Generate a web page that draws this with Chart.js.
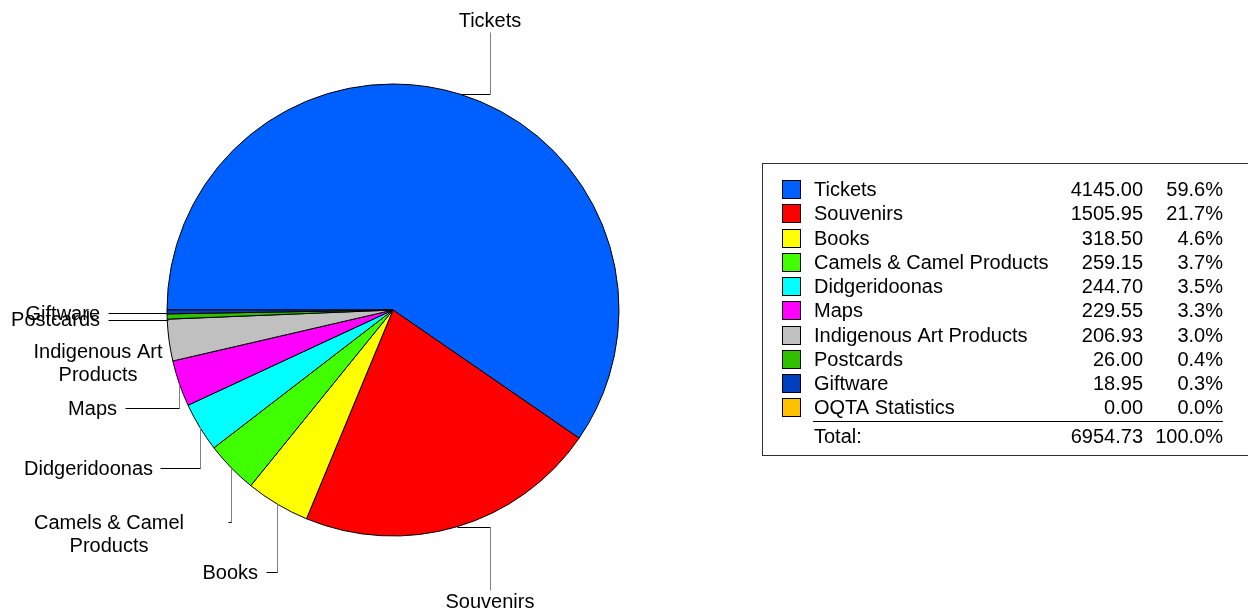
<!DOCTYPE html>
<html>
<head>
<meta charset="utf-8">
<title>Sales by Category</title>
<script src="https://cdn.jsdelivr.net/npm/chart.js@4.4.1/dist/chart.umd.min.js"></script>
<style>
    html, body { margin: 0; padding: 0; background: #ffffff; }
    #wrap { position: relative; width: 1248px; height: 614px; }
</style>
</head>
<body>
<div id="wrap"><canvas id="salesChart" width="1248" height="614"></canvas></div>
<script>
// Data
const categories = ['Tickets', 'Souvenirs', 'Books', 'Camels & Camel Products', 'Didgeridoonas',
    'Maps', 'Indigenous Art Products', 'Postcards', 'Giftware', 'OQTA Statistics'];
const salesValues = [4145.00, 1505.95, 318.50, 259.15, 244.70, 229.55, 206.93, 26.00, 18.95, 0.00];
const pieLabelLines = [['Tickets'], ['Souvenirs'], ['Books'], ['Camels & Camel', 'Products'], ['Didgeridoonas'],
    ['Maps'], ['Indigenous Art', 'Products'], ['Postcards'], ['Giftware'], []];
const sliceColors = ['#0060ff', '#ff0000', '#ffff00', '#40ff00', '#00ffff',
    '#ff00ff', '#c0c0c0', '#30c000', '#0040c0', '#ffc000'];
const totalLabel = 'Total:';

// Where each outside label sits; 'h' = go across then up/down, 'v' = go down then across
const labelLayout = [
    { leg: 'h', ex: 490, ey: 32, tx: 490, ty: 21, align: 'center' },
    { leg: 'h', ex: 490, ey: 590, tx: 490, ty: 602, align: 'center' },
    { leg: 'v', ex: 266, ey: 572, tx: 258, ty: 573, align: 'right' },
    { leg: 'v', ex: 228, ey: 522, tx: 109, ty: 523, align: 'center' },
    { leg: 'v', ex: 160, ey: 468, tx: 153, ty: 469, align: 'right' },
    { leg: 'v', ex: 125, ey: 408, tx: 117, ty: 409, align: 'right' },
    { leg: 'none', tx: 98, ty: 352, align: 'center' },
    { leg: 'flat', ex: 108, tx: 100, ty: 320, align: 'right', dy: 3 },
    { leg: 'flat', ex: 108, tx: 100, ty: 314, align: 'right', dy: 1 },
    { leg: 'none' }
];

const FONT = '20px "Liberation Sans", Arial, sans-serif';
const total = salesValues.reduce((a, b) => a + b, 0);

const labelsPlugin = {
    id: 'outsideLabels',
    afterDatasetsDraw(chart) {
        const ctx = chart.ctx;
        const arcs = chart.getDatasetMeta(0).data;
        ctx.save();
        ctx.font = FONT;
        ctx.textBaseline = 'middle';
        ctx.lineWidth = 1;

        arcs.forEach((arc, i) => {
            const lay = labelLayout[i];
            if (!lay || pieLabelLines[i].length === 0) return;
            const mid = (arc.startAngle + arc.endAngle) / 2;
            const ax = Math.round(arc.x + Math.cos(mid) * arc.outerRadius) + 0.5;
            const ay = Math.round(arc.y + Math.sin(mid) * arc.outerRadius) + 0.5;

            // horizontal parts black, vertical parts grey
            const hLine = (x1, x2, y) => {
                ctx.strokeStyle = '#000000';
                ctx.beginPath(); ctx.moveTo(x1, y); ctx.lineTo(x2, y); ctx.stroke();
            };
            const vLine = (x, y1, y2) => {
                ctx.strokeStyle = '#808080';
                ctx.beginPath(); ctx.moveTo(x, y1); ctx.lineTo(x, y2); ctx.stroke();
            };
            if (lay.leg === 'h') {
                hLine(ax, lay.ex + 0.5, ay);
                vLine(lay.ex + 0.5, ay, lay.ey + 0.5);
            } else if (lay.leg === 'v') {
                vLine(ax, ay, lay.ey + 0.5);
                hLine(ax, lay.ex + 0.5, lay.ey + 0.5);
            } else if (lay.leg === 'flat') {
                hLine(ax + 1, lay.ex + 0.5, ay + (lay.dy || 0));
            }

            ctx.fillStyle = '#000000';
            ctx.textAlign = lay.align;
            pieLabelLines[i].forEach((line, k) => {
                ctx.fillText(line, lay.tx, lay.ty + k * 23);
            });
        });

        // Legend table
        const boxX = 762.5, boxY = 163.5, boxW = 600, boxH = 292;
        ctx.strokeStyle = '#303030';
        ctx.strokeRect(boxX, boxY, boxW, boxH);

        const rowY0 = 189.5, rowStep = 24.25;
        categories.forEach((name, i) => {
            const y = rowY0 + i * rowStep;
            ctx.fillStyle = sliceColors[i];
            ctx.fillRect(782, Math.round(y - 9.5), 19, 19);
            ctx.strokeStyle = '#000000';
            ctx.strokeRect(782.5, Math.round(y - 9.5) + 0.5, 18, 18);

            ctx.fillStyle = '#000000';
            ctx.textAlign = 'left';
            ctx.fillText(name, 814, y + 1);
            ctx.textAlign = 'right';
            ctx.fillText(salesValues[i].toFixed(2), 1143, y + 1);
            ctx.fillText((salesValues[i] / total * 100).toFixed(1) + '%', 1223, y + 1);
        });

        ctx.strokeStyle = '#000000';
        ctx.beginPath();
        ctx.moveTo(813, 421.5);
        ctx.lineTo(1223, 421.5);
        ctx.stroke();

        const ty = 437;
        ctx.textAlign = 'left';
        ctx.fillText(totalLabel, 814, ty);
        ctx.textAlign = 'right';
        ctx.fillText(total.toFixed(2), 1143, ty);
        ctx.fillText('100.0%', 1223, ty);

        ctx.restore();
    }
};

new Chart(document.getElementById('salesChart'), {
    type: 'pie',
    data: {
        labels: categories,
        datasets: [{
            data: salesValues,
            backgroundColor: sliceColors,
            borderColor: '#000000',
            borderWidth: 1,
            radius: 226
        }]
    },
    options: {
        responsive: false,
        animation: false,
        devicePixelRatio: 1,
        rotation: -90,
        layout: {
            padding: { left: 167, right: 629, top: 84, bottom: 78 }
        },
        plugins: {
            legend: { display: false },
            tooltip: { enabled: false }
        }
    },
    plugins: [labelsPlugin]
});
</script>
</body>
</html>
